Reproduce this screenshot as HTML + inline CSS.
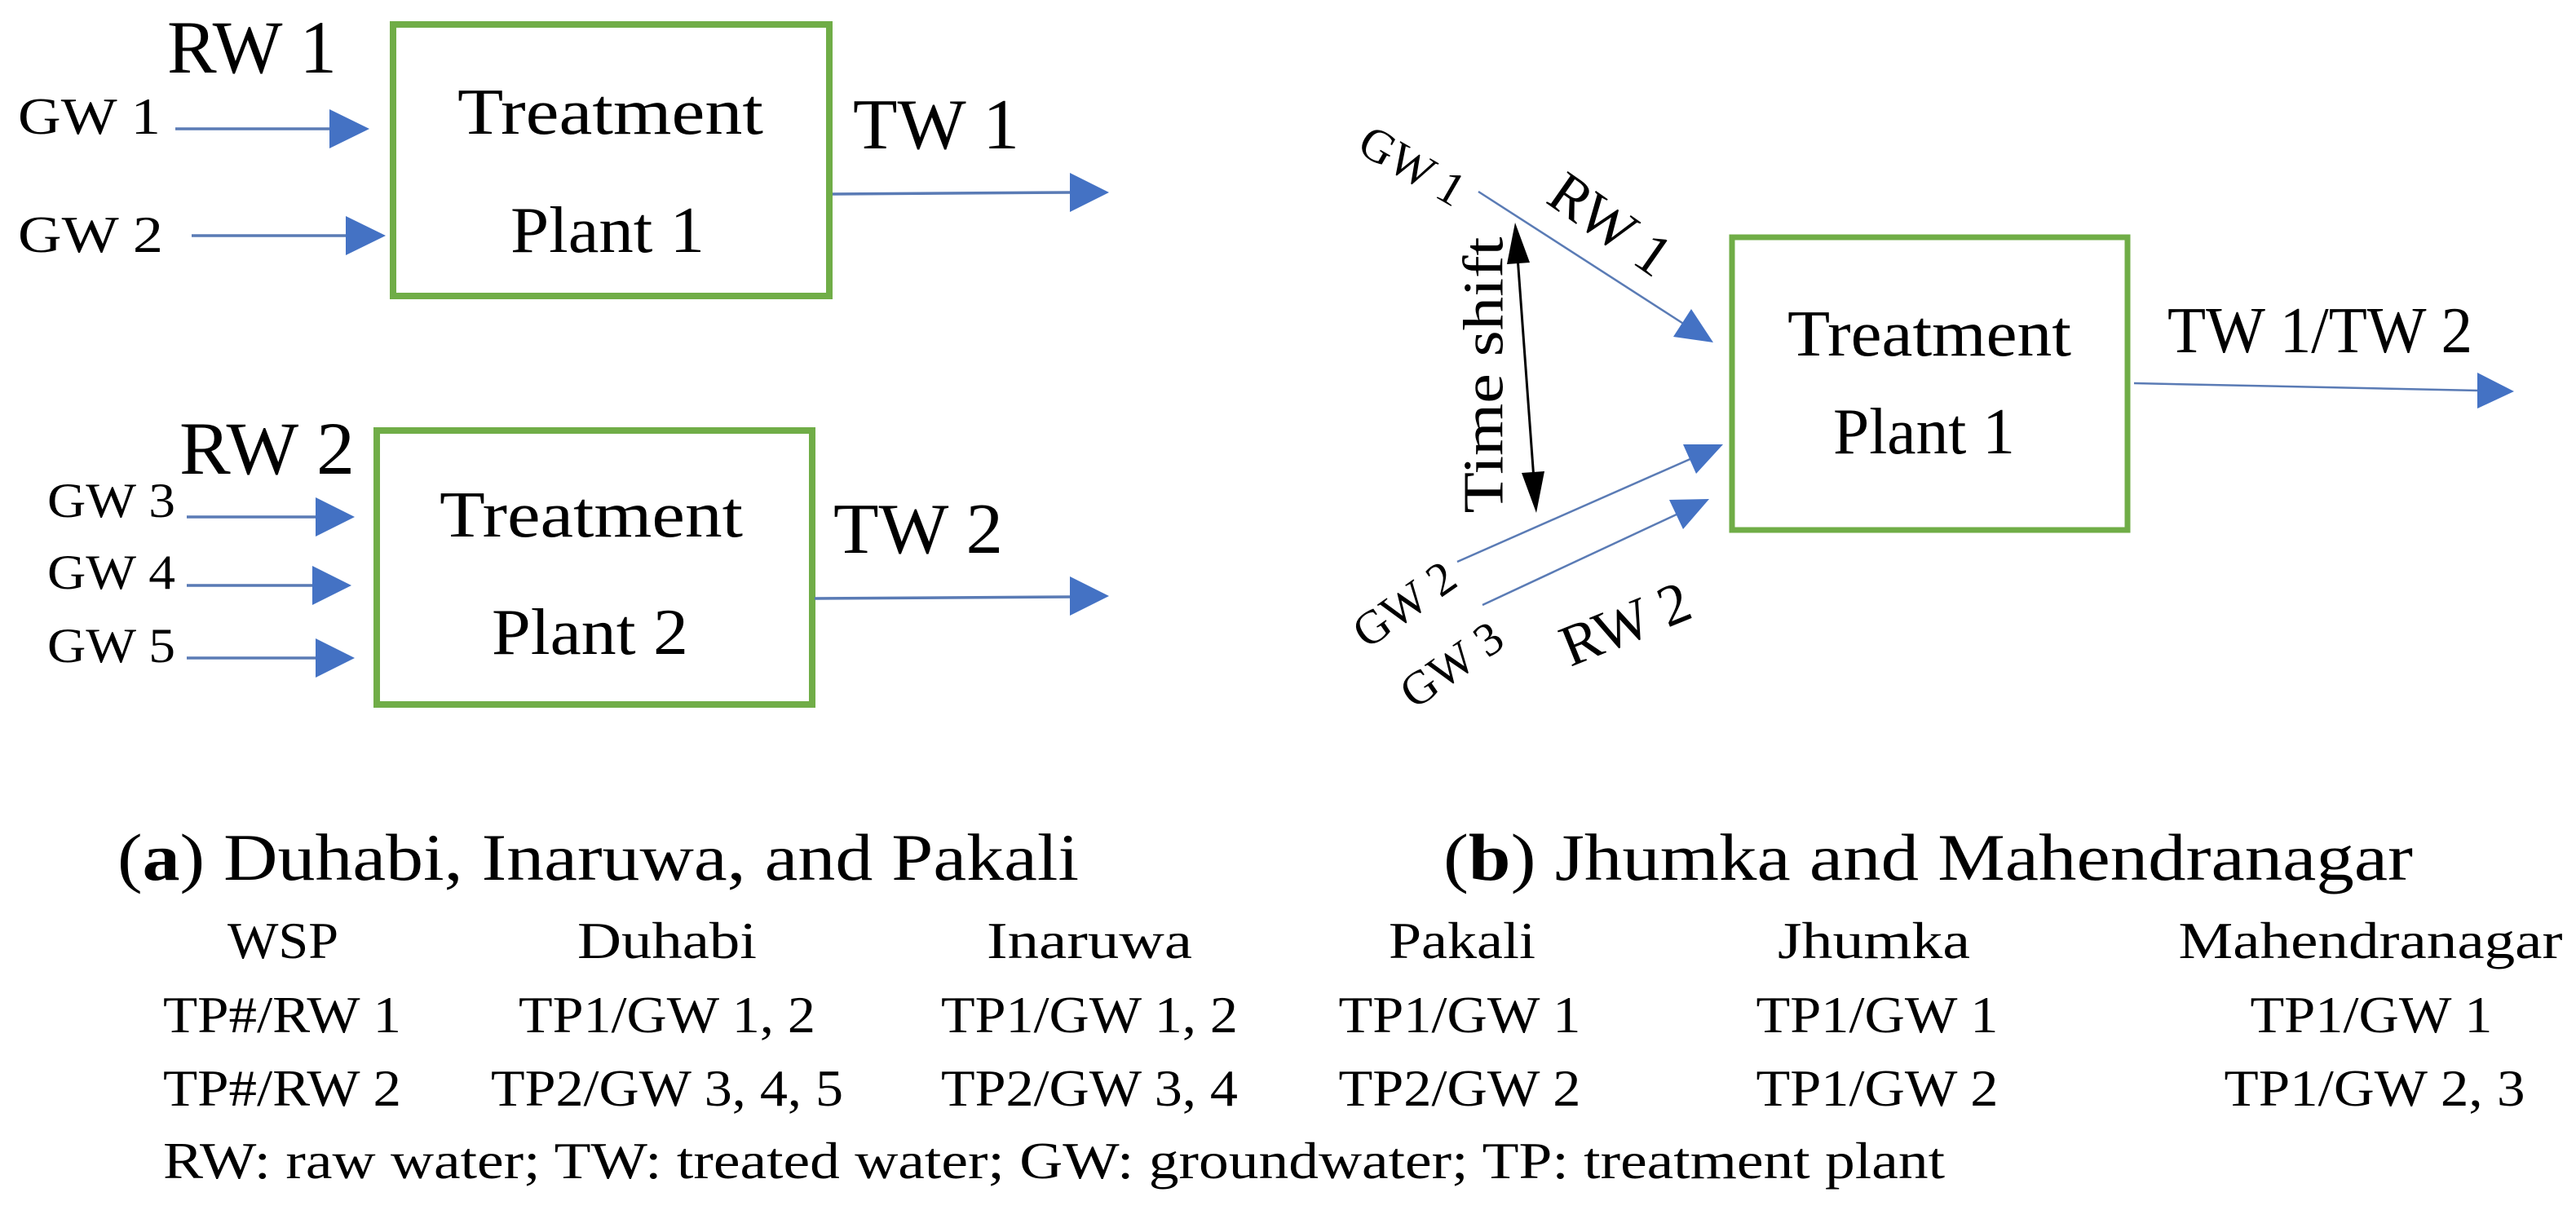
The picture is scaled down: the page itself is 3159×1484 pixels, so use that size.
<!DOCTYPE html>
<html><head><meta charset="utf-8"><style>
html,body{margin:0;padding:0;background:#fff;}
svg{display:block;}
text{font-family:"Liberation Serif",serif;fill:#000;}
</style></head><body>
<svg width="3159" height="1484" viewBox="0 0 3159 1484" xmlns="http://www.w3.org/2000/svg">
<g fill="none" stroke="#70ad47" stroke-width="8">
<rect x="482" y="30" width="535" height="333"/>
<rect x="462" y="528" width="534" height="336"/>
<rect x="2124" y="291" width="485" height="359" stroke-width="7"/>
</g>
<g stroke="#5a7bb5" stroke-width="3.5">
<line x1="215" y1="158" x2="410" y2="158"/>
<line x1="235" y1="289" x2="430" y2="289"/>
<line x1="229" y1="634" x2="392" y2="634"/>
<line x1="229" y1="718" x2="388" y2="718"/>
<line x1="229" y1="807" x2="392" y2="807"/>
<line x1="1021" y1="238" x2="1315" y2="236"/>
<line x1="999" y1="734" x2="1315" y2="732"/>
</g>
<g stroke="#5a7bb5" stroke-width="2.5">
<line x1="1813" y1="235" x2="2066" y2="398"/>
<line x1="1787" y1="689" x2="2075" y2="562"/>
<line x1="1818" y1="742" x2="2058" y2="630"/>
<line x1="2617" y1="470" x2="3040" y2="479"/>
</g>
<g fill="#4472c4">
<polygon points="453,158 404,134 404,182"/>
<polygon points="473,289 424,265 424,313"/>
<polygon points="435,634 387,610 387,658"/>
<polygon points="431,718 383,694 383,742"/>
<polygon points="435,807 387,783 387,831"/>
<polygon points="1360,236 1312,212 1312,260"/>
<polygon points="1360,731 1312,707 1312,755"/>
<polygon points="2101,420 2052,413 2074,379"/>
<polygon points="2113,545 2080,581 2064,545"/>
<polygon points="2096,612 2064,649 2047,613"/>
<polygon points="3083,480 3038,457 3038,501"/>
</g>
<line x1="1861" y1="315" x2="1881" y2="588" stroke="#000" stroke-width="3"/>
<polygon points="1858,273 1876,322 1848,324" fill="#000"/>
<polygon points="1884,629 1894,578 1866,580" fill="#000"/>

<text x="205" y="89" font-size="92" textLength="208" lengthAdjust="spacingAndGlyphs">RW 1</text>
<text x="22" y="164" font-size="64" textLength="175" lengthAdjust="spacingAndGlyphs">GW 1</text>
<text x="22" y="309" font-size="64" textLength="178" lengthAdjust="spacingAndGlyphs">GW 2</text>
<text x="561" y="164" font-size="80" textLength="375" lengthAdjust="spacingAndGlyphs">Treatment</text>
<text x="626" y="309" font-size="80" textLength="238" lengthAdjust="spacingAndGlyphs">Plant 1</text>
<text x="1046" y="182" font-size="88" textLength="204" lengthAdjust="spacingAndGlyphs">TW 1</text>

<text x="220" y="581" font-size="92" textLength="215" lengthAdjust="spacingAndGlyphs">RW 2</text>
<text x="58" y="634" font-size="60" textLength="157" lengthAdjust="spacingAndGlyphs">GW 3</text>
<text x="58" y="722" font-size="60" textLength="157" lengthAdjust="spacingAndGlyphs">GW 4</text>
<text x="58" y="812" font-size="60" textLength="157" lengthAdjust="spacingAndGlyphs">GW 5</text>
<text x="539" y="658" font-size="80" textLength="372" lengthAdjust="spacingAndGlyphs">Treatment</text>
<text x="603" y="802" font-size="80" textLength="241" lengthAdjust="spacingAndGlyphs">Plant 2</text>
<text x="1022" y="678" font-size="88" textLength="208" lengthAdjust="spacingAndGlyphs">TW 2</text>

<text x="2192" y="436" font-size="80" textLength="348" lengthAdjust="spacingAndGlyphs">Treatment</text>
<text x="2248" y="556" font-size="80" textLength="223" lengthAdjust="spacingAndGlyphs">Plant 1</text>
<text x="2658" y="432" font-size="80" textLength="374" lengthAdjust="spacingAndGlyphs">TW 1/TW 2</text>

<text transform="translate(1732,203) rotate(30)" text-anchor="middle" dominant-baseline="central" font-size="58">GW 1</text>
<text transform="translate(1975,275) rotate(35)" text-anchor="middle" dominant-baseline="central" font-size="72">RW 1</text>
<text transform="translate(1820,460) rotate(-90)" text-anchor="middle" dominant-baseline="central" font-size="70" textLength="339" lengthAdjust="spacingAndGlyphs">Time shift</text>
<text transform="translate(1722,741) rotate(-35)" text-anchor="middle" dominant-baseline="central" font-size="58">GW 2</text>
<text transform="translate(1780,815) rotate(-35)" text-anchor="middle" dominant-baseline="central" font-size="58">GW 3</text>
<text transform="translate(1993,765) rotate(-22)" text-anchor="middle" dominant-baseline="central" font-size="72">RW 2</text>

<text x="144" y="1079" font-size="82" textLength="1179" lengthAdjust="spacingAndGlyphs">(<tspan font-weight="bold">a</tspan>) Duhabi, Inaruwa, and Pakali</text>
<text x="1770" y="1079" font-size="82" textLength="1189" lengthAdjust="spacingAndGlyphs">(<tspan font-weight="bold">b</tspan>) Jhumka and Mahendranagar</text>

<g font-size="64" text-anchor="middle">
<text x="347" y="1175" textLength="136" lengthAdjust="spacingAndGlyphs">WSP</text>
<text x="818" y="1175" textLength="220" lengthAdjust="spacingAndGlyphs">Duhabi</text>
<text x="1336" y="1175" textLength="252" lengthAdjust="spacingAndGlyphs">Inaruwa</text>
<text x="1793" y="1175" textLength="180" lengthAdjust="spacingAndGlyphs">Pakali</text>
<text x="2298" y="1175" textLength="236" lengthAdjust="spacingAndGlyphs">Jhumka</text>
<text x="2907" y="1175" textLength="471" lengthAdjust="spacingAndGlyphs">Mahendranagar</text>

<text x="346" y="1266" textLength="292" lengthAdjust="spacingAndGlyphs">TP#/RW 1</text>
<text x="818" y="1266" textLength="364" lengthAdjust="spacingAndGlyphs">TP1/GW 1, 2</text>
<text x="1336" y="1266" textLength="364" lengthAdjust="spacingAndGlyphs">TP1/GW 1, 2</text>
<text x="1790" y="1266" textLength="297" lengthAdjust="spacingAndGlyphs">TP1/GW 1</text>
<text x="2302" y="1266" textLength="297" lengthAdjust="spacingAndGlyphs">TP1/GW 1</text>
<text x="2908" y="1266" textLength="297" lengthAdjust="spacingAndGlyphs">TP1/GW 1</text>

<text x="346" y="1356" textLength="292" lengthAdjust="spacingAndGlyphs">TP#/RW 2</text>
<text x="818" y="1356" textLength="432" lengthAdjust="spacingAndGlyphs">TP2/GW 3, 4, 5</text>
<text x="1336" y="1356" textLength="364" lengthAdjust="spacingAndGlyphs">TP2/GW 3, 4</text>
<text x="1790" y="1356" textLength="297" lengthAdjust="spacingAndGlyphs">TP2/GW 2</text>
<text x="2302" y="1356" textLength="297" lengthAdjust="spacingAndGlyphs">TP1/GW 2</text>
<text x="2912" y="1356" textLength="369" lengthAdjust="spacingAndGlyphs">TP1/GW 2, 3</text>
</g>
<text x="200" y="1445" font-size="64" textLength="2185" lengthAdjust="spacingAndGlyphs">RW: raw water; TW: treated water; GW: groundwater; TP: treatment plant</text>
</svg>
</body></html>
